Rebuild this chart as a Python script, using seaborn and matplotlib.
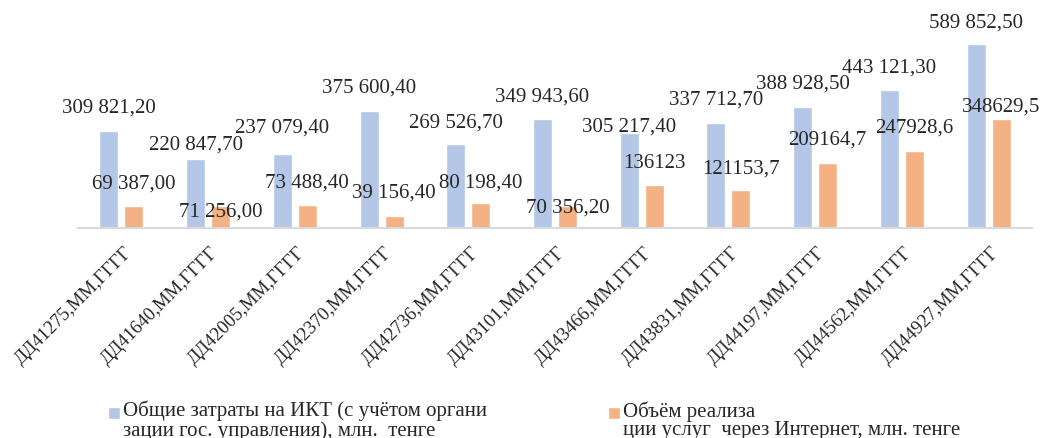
import matplotlib
matplotlib.use("Agg")
import matplotlib.pyplot as plt
import matplotlib.transforms as mtransforms
from matplotlib.patches import Rectangle
from matplotlib.legend_handler import HandlerPatch
import pandas as pd
import seaborn as sns

categories = ["ДД41275,ММ,ГГГГ", "ДД41640,ММ,ГГГГ", "ДД42005,ММ,ГГГГ", "ДД42370,ММ,ГГГГ",
              "ДД42736,ММ,ГГГГ", "ДД43101,ММ,ГГГГ", "ДД43466,ММ,ГГГГ", "ДД43831,ММ,ГГГГ",
              "ДД44197,ММ,ГГГГ", "ДД44562,ММ,ГГГГ", "ДД44927,ММ,ГГГГ"]
ict_costs = [309821.2, 220847.7, 237079.4, 375600.4, 269526.7, 349943.6,
             305217.4, 337712.7, 388928.5, 443121.3, 589852.5]
internet_sales = [69387.0, 71256.0, 73488.4, 39156.4, 80198.4, 70356.2,
                  136123.0, 121153.7, 209164.7, 247928.6, 348629.5]
ict_labels = ["309 821,20", "220 847,70", "237 079,40", "375 600,40", "269 526,70", "349 943,60",
              "305 217,40", "337 712,70", "388 928,50", "443 121,30", "589 852,50"]
internet_labels = ["69 387,00", "71 256,00", "73 488,40", "39 156,40", "80 198,40", "70 356,20",
                   "136123", "121153,7", "209164,7", "247928,6", "348629,5"]
series_names = ["Общие затраты на ИКТ (с учётом органи\nзации гос. управления), млн.  тенге",
                "Объём реализа\nции услуг  через Интернет, млн. тенге"]

# label nudges in pixels (the labels were dragged around in the original)
ict_dy = [24, 15, 27, 24, 22, 23, 7, 23, 23, 23, 22]
internet_dy = [23, -5, 23, 24, 21, -1, 23, 22, 24, 24, 13]

colors = ["#B4C7E7", "#F4B183"]

df = pd.DataFrame({
    "cat": categories * 2,
    "value": ict_costs + internet_sales,
    "series": [series_names[0]] * len(categories) + [series_names[1]] * len(categories),
})

sns.set_style("white")
plt.rcParams["font.family"] = ["Liberation Serif", "DejaVu Serif"]

W, H = 1057, 439
fig = plt.figure(figsize=(W / 100, H / 100), dpi=100)
ax = fig.add_axes([78 / W, (H - 229) / H, (1032 - 78) / W, 203 / H])

sns.barplot(data=df, x="cat", y="value", hue="series", palette=colors,
            width=0.576, gap=0.24, ax=ax, legend=False, saturation=1)

ax.set_ylim(0, 650000)
ax.set_xlim(-0.5, len(categories) - 0.5)
ax.set_xlabel("")
ax.set_ylabel("")
ax.set_yticks([])
for s in ["top", "right", "left"]:
    ax.spines[s].set_visible(False)
ax.spines["bottom"].set_color("#D9D9D9")
ax.spines["bottom"].set_linewidth(1.5)
ax.tick_params(axis="x", length=0)

offset = mtransforms.ScaledTranslation(8 / 100, -16 / 100, fig.dpi_scale_trans)
for lab in ax.get_xticklabels():
    lab.set_rotation(45)
    lab.set_ha("right")
    lab.set_va("center")
    lab.set_rotation_mode("anchor")
    lab.set_fontsize(13.5)
    lab.set_transform(lab.get_transform() + offset)

for container, texts, dys in zip(ax.containers, [ict_labels, internet_labels], [ict_dy, internet_dy]):
    for bar, t, dy in zip(container, texts, dys):
        ax.annotate(t, (bar.get_x() + bar.get_width() / 2, bar.get_height()),
                    xytext=(0, dy), textcoords="offset pixels",
                    ha="center", va="center", fontsize=15, annotation_clip=False)


def top_square(legend, orig_handle, xdescent, ydescent, width, height, fontsize):
    size = 0.58 * fontsize
    return Rectangle((-xdescent, -ydescent + height - size - 0.12 * fontsize), size, size)


handles = [Rectangle((0, 0), 1, 1, facecolor=c) for c in colors]
leg = fig.legend(handles, series_names, loc="upper left", bbox_to_anchor=(108 / W, 1 - 401 / H),
                 ncol=2, frameon=False, fontsize=15, handlelength=0.58, handleheight=1.95,
                 handletextpad=0.15, columnspacing=5.8, borderpad=0, borderaxespad=0,
                 handler_map={Rectangle: HandlerPatch(patch_func=top_square)})
for t in leg.get_texts():
    t.set_linespacing(0.96)

fig.savefig("out.png", dpi=100)
